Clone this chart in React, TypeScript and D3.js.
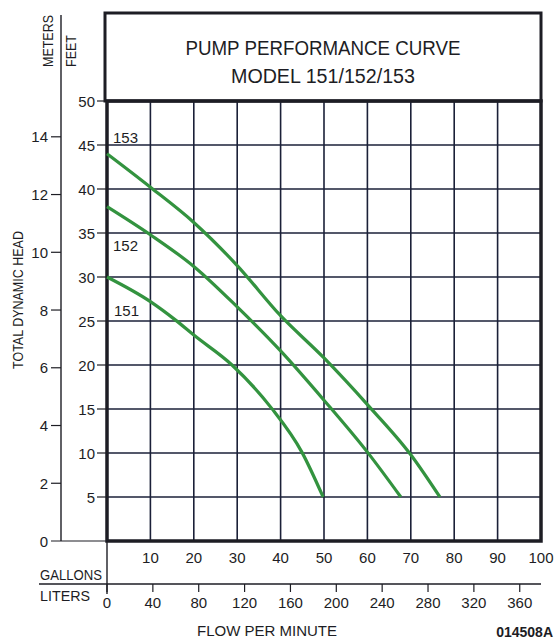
import React from 'react';
import * as d3 from 'd3';

// ticks
const gallonTicks = [10, 20, 30, 40, 50, 60, 70, 80, 90, 100];
const literTicks = [0, 40, 80, 120, 160, 200, 240, 280, 320, 360];
const feetTicks = [5, 10, 15, 20, 25, 30, 35, 40, 45, 50];
const meterTicks = [0, 2, 4, 6, 8, 10, 12, 14];

// curves: [gallons per minute, feet of head]
const model153: [number, number][] = [
  [0, 44], [10, 40.2], [20, 36.2], [30, 31.3], [40, 25.6], [50, 20.8], [60, 15.5], [70, 9.8], [76.7, 5],
];
const model152: [number, number][] = [
  [0, 38], [10, 34.8], [20, 31.2], [30, 26.6], [40, 21.6], [50, 16], [60, 10.1], [67.7, 5],
];
const model151: [number, number][] = [
  [0, 30], [10, 27.2], [15.8, 25.1], [20, 23.4], [28.8, 20], [37.9, 15.1], [44.9, 10.1], [49.8, 5],
];
const curves = [
  { name: '153', data: model153 },
  { name: '152', data: model152 },
  { name: '151', data: model151 },
];

const L_PER_GAL = 3.78541;
const FT_PER_M = 3.28084;

const App = () => {
  const left = 107, right = 541, top = 101, bottom = 541;
  const x = d3.scaleLinear().domain([0, 100]).range([left, right]);
  const y = d3.scaleLinear().domain([0, 50]).range([bottom, top]);
  const line = d3.line<[number, number]>()
    .x(d => x(d[0]))
    .y(d => y(d[1]))
    .curve(d3.curveMonotoneX);

  const font = '"Liberation Sans", Arial, sans-serif';
  const ink = '#1d1d24';
  const grid = '#1b2038';
  const green = '#33933f';
  const mAxisX = 61;

  return (
    <svg width={555} height={640} style={{ position: 'absolute', left: 0, top: 0, background: '#fff' }}
      fontFamily={font} fill={ink}>
      {/* header box */}
      <rect x={105} y={13} width={right - 105} height={top - 13} fill="none" stroke={ink} strokeWidth={3} />
      <text x={(105 + right) / 2} y={55} textAnchor="middle" fontSize={20} textLength={275} lengthAdjust="spacingAndGlyphs">PUMP PERFORMANCE CURVE</text>
      <text x={(105 + right) / 2} y={83} textAnchor="middle" fontSize={20} textLength={184} lengthAdjust="spacingAndGlyphs">MODEL 151/152/153</text>

      {/* grid */}
      {gallonTicks.slice(0, -1).map(g => (
        <line key={'gx' + g} x1={x(g)} x2={x(g)} y1={top} y2={bottom} stroke={grid} strokeWidth={1.6} />
      ))}
      {feetTicks.slice(0, -1).map(f => (
        <line key={'gy' + f} x1={left} x2={right} y1={y(f)} y2={y(f)} stroke={grid} strokeWidth={1.6} />
      ))}
      <rect x={left} y={top} width={right - left} height={bottom - top} fill="none" stroke={ink} strokeWidth={3.5} />

      {/* feet axis */}
      {feetTicks.map(f => (
        <g key={'ft' + f}>
          <line x1={97} x2={left} y1={y(f)} y2={y(f)} stroke={ink} strokeWidth={1.2} />
          <text x={95} y={y(f) + 5.5} textAnchor="end" fontSize={15}>{f}</text>
        </g>
      ))}

      {/* meters axis */}
      <line x1={mAxisX} x2={mAxisX} y1={15} y2={bottom} stroke={ink} strokeWidth={1.4} />
      {meterTicks.map(m => (
        <g key={'m' + m}>
          <line x1={51} x2={m === 0 ? left : mAxisX} y1={y(m * FT_PER_M)} y2={y(m * FT_PER_M)} stroke={ink} strokeWidth={1.2} />
          <text x={48} y={y(m * FT_PER_M) + 5.5} textAnchor="end" fontSize={15}>{m}</text>
        </g>
      ))}
      <text transform="translate(53,41) rotate(-90)" textAnchor="middle" fontSize={14} textLength={52} lengthAdjust="spacingAndGlyphs">METERS</text>
      <text transform="translate(76,51) rotate(-90)" textAnchor="middle" fontSize={14} textLength={32} lengthAdjust="spacingAndGlyphs">FEET</text>
      <text transform="translate(23,300) rotate(-90)" textAnchor="middle" fontSize={15} textLength={138} lengthAdjust="spacingAndGlyphs">TOTAL DYNAMIC HEAD</text>

      {/* gallons axis */}
      {gallonTicks.map(g => (
        <text key={'gl' + g} x={x(g)} y={563} textAnchor="middle" fontSize={15}>{g}</text>
      ))}
      <line x1={left} x2={left} y1={bottom} y2={594} stroke={ink} strokeWidth={1.4} />
      <line x1={39} x2={right} y1={584} y2={584} stroke={ink} strokeWidth={1.4} />
      <text x={40} y={580} fontSize={15} textLength={62} lengthAdjust="spacingAndGlyphs">GALLONS</text>
      <text x={40} y={601} fontSize={15} textLength={50} lengthAdjust="spacingAndGlyphs">LITERS</text>
      {literTicks.map(l => (
        <g key={'l' + l}>
          <line x1={x(l / L_PER_GAL)} x2={x(l / L_PER_GAL)} y1={584} y2={592} stroke={ink} strokeWidth={1.2} />
          <text x={x(l / L_PER_GAL)} y={608} textAnchor="middle" fontSize={15}>{l}</text>
        </g>
      ))}
      <text x={267} y={636} textAnchor="middle" fontSize={15}>FLOW PER MINUTE</text>
      <text x={553} y={637} textAnchor="end" fontSize={14} fontWeight="bold">014508A</text>

      {/* curves */}
      {curves.map(c => (
        <path key={c.name} d={line(c.data) || ''} fill="none" stroke={green} strokeWidth={3.2} strokeLinecap="butt" />
      ))}
      <text x={113} y={143} fontSize={15}>153</text>
      <text x={113} y={251} fontSize={15}>152</text>
      <text x={114} y={316} fontSize={15}>151</text>
    </svg>
  );
};

export default App;
